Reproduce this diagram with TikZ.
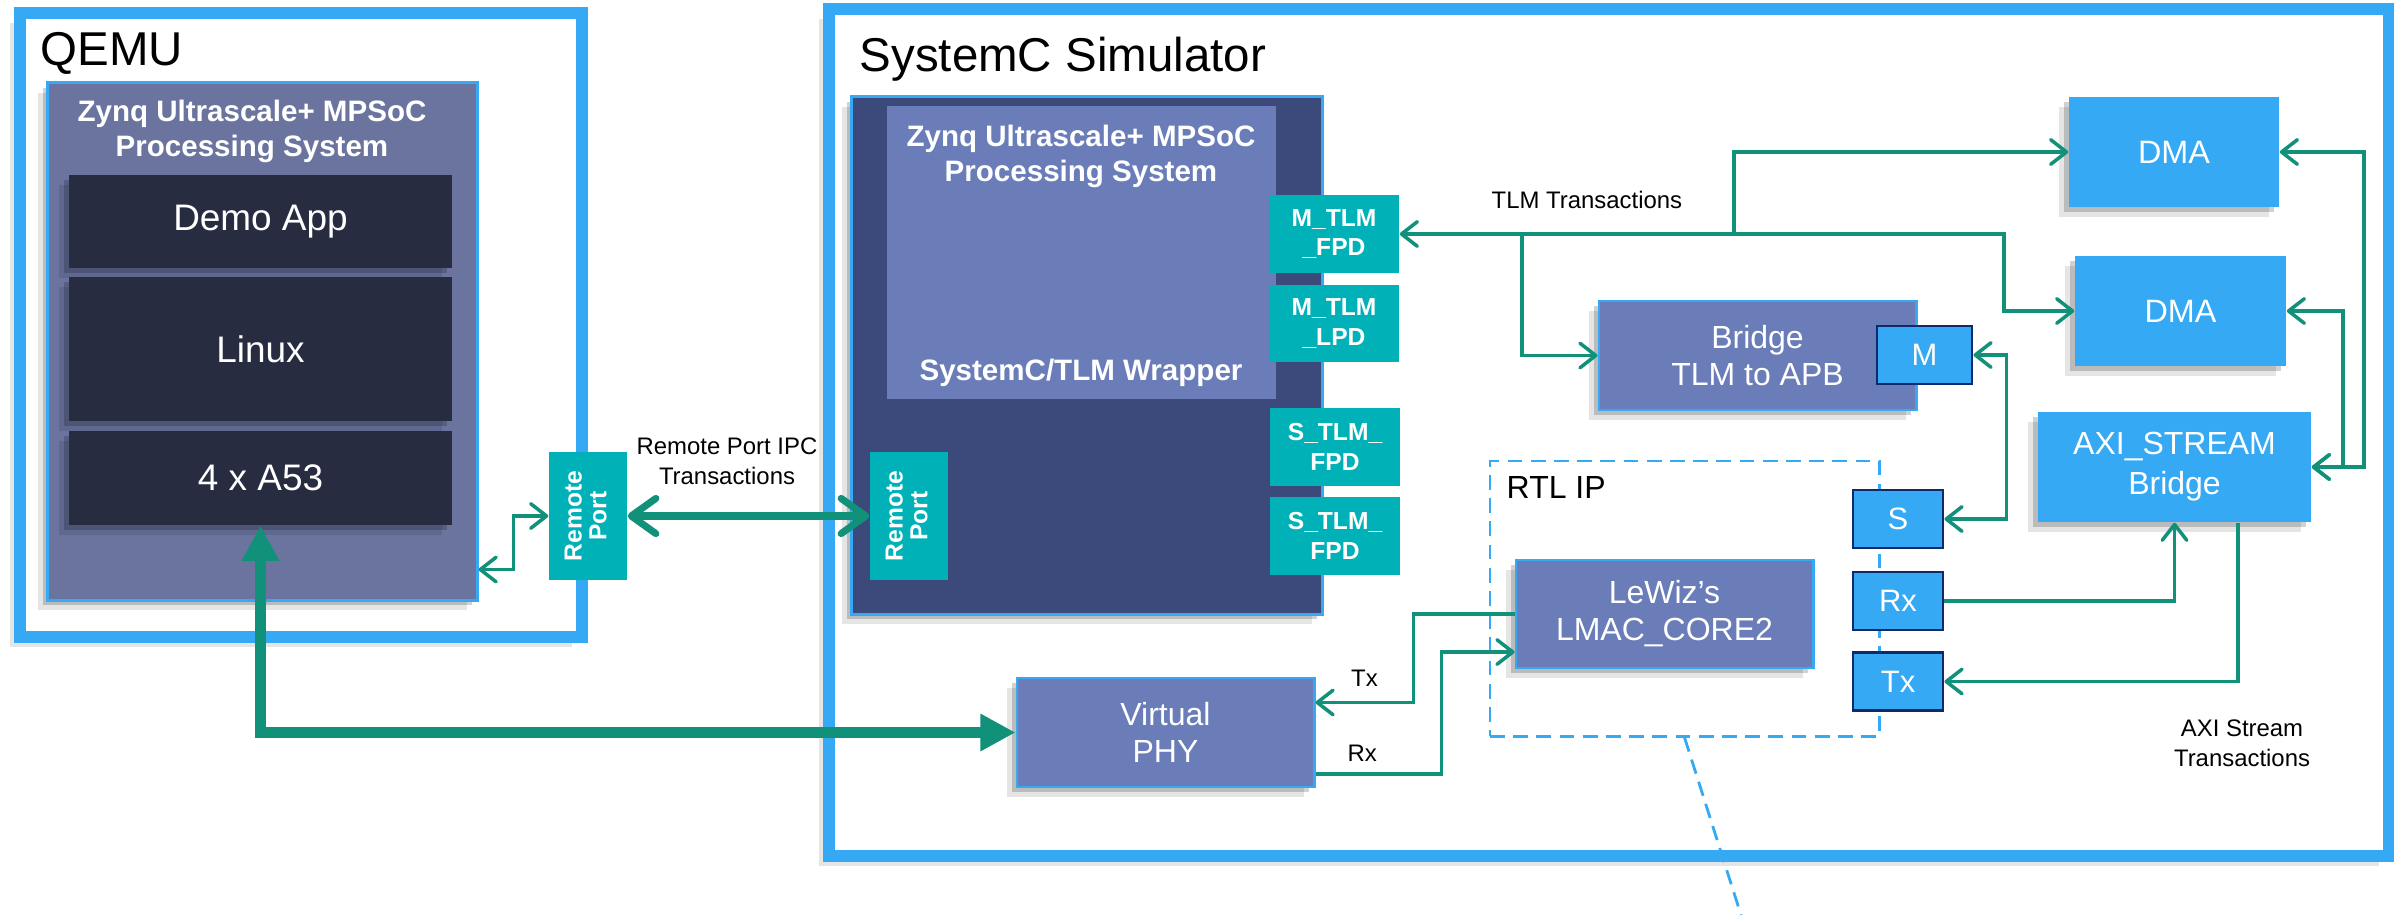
\documentclass[tikz,border=0pt]{standalone}
\usepackage{fontspec}
\setmainfont{Liberation Sans}
\usepackage{graphicx}
\usetikzlibrary{arrows.meta,shadows}

\definecolor{frameblue}{HTML}{36A9F5}
\definecolor{psgrey}{HTML}{6A749F}
\definecolor{appdark}{HTML}{282C41}
\definecolor{wrapnavy}{HTML}{3B4A7B}
\definecolor{psblue}{HTML}{6A7DB8}
\definecolor{portteal}{HTML}{00B1B8}
\definecolor{linkgreen}{HTML}{11907A}
\definecolor{edgenavy}{HTML}{10296B}

\tikzset{
  boxshadow/.style={general shadow={fill=black, opacity=.1, shadow xshift=-2.8pt, shadow yshift=-2.8pt},
                    general shadow={fill=black, opacity=.18, shadow xshift=-1.4pt, shadow yshift=-1.4pt}},
  simframe/.style={draw=frameblue, line width=3.4pt, fill=white, inner sep=0pt, boxshadow},
  bigtitle/.style={font=\fontsize{13.5}{16}\selectfont, inner sep=0pt},
  psbox/.style={draw=frameblue, line width=.8pt, fill=psgrey, inner sep=0pt, boxshadow},
  pstitle/.style={font=\bfseries\fontsize{8.4}{10}\selectfont, text=white, align=center, inner sep=0pt},
  appbox/.style={fill=appdark, text=white, font=\fontsize{10.5}{12.6}\selectfont, minimum width=3.83cm, inner sep=0pt, boxshadow},
  ipbox/.style={draw=frameblue, line width=.8pt, fill=psblue, text=white, align=center, font=\fontsize{9.1}{10.5}\selectfont, inner sep=0pt, boxshadow},
  dmabox/.style={fill=frameblue, text=white, align=center, font=\fontsize{9.2}{11.4}\selectfont, inner sep=0pt, boxshadow},
  portbox/.style={fill=portteal, text=white, align=center, font=\bfseries\fontsize{7}{8.5}\selectfont, inner sep=0pt},
  pinbox/.style={fill=frameblue, draw=edgenavy, line width=.8pt, text=white, font=\fontsize{8.8}{10}\selectfont, inner sep=0pt, minimum height=.58cm},
  rtlbox/.style={draw=frameblue, line width=.8pt, dash pattern=on 4.2pt off 2.4pt, inner sep=0pt},
  note/.style={font=\fontsize{6.8}{8.6}\selectfont, align=center, inner sep=1pt},
  link/.style={draw=linkgreen, line width=1pt},
  ipc/.style={draw=linkgreen, line width=2pt, >={Straight Barb[length=7pt,width=10pt,round]}},
  phylink/.style={draw=linkgreen, line width=3.4pt, >={Triangle[length=10pt,width=10pt]}},
}

\begin{document}
\begin{tikzpicture}[x=0.01cm, y=-0.01cm, >={Straight Barb[length=4.5pt,width=7pt,round]}]
\useasboundingbox (0,0) rectangle (2404,915);

% qemu
\node[simframe, minimum width=5.62cm, minimum height=6.24cm] (qemu) at (301,325) {};
\node[bigtitle, anchor=base west] (qemutitle) at (40,65) {QEMU};
\node[psbox, minimum width=4.29cm, minimum height=5.17cm] (qemups) at (262.5,341.5) {};
\node[pstitle, anchor=north] (qemupstitle) at (252,99) {Zynq Ultrascale+ MPSoC\\Processing System};
\node[appbox, minimum height=.93cm] (demo) at (260.5,221.5) {Demo App};
\node[appbox, minimum height=1.44cm] (linux) at (260.5,349) {Linux};
\node[appbox, minimum height=.94cm] (a53) at (260.5,478) {4 x A53};
\node[portbox, minimum width=.78cm, minimum height=1.28cm] (rpq) at (588,516)
  {\rotatebox{90}{\begin{tabular}{@{}c@{}}Remote\\[-1.5pt]Port\end{tabular}}};
\node[note] (ipcnote) at (727,461) {Remote Port IPC\\Transactions};

% systemc simulator
\node[simframe, minimum width=15.59cm, minimum height=8.465cm] (sysc) at (1608.5,432.75) {};
\node[bigtitle, anchor=base west] (sysctitle) at (859,71) {SystemC Simulator};
\node[psbox, fill=wrapnavy, minimum width=4.70cm, minimum height=5.17cm] (wrapper) at (1087,355.5) {};
\node[fill=psblue, inner sep=0pt, minimum width=3.89cm, minimum height=2.93cm] (scps) at (1081.5,252.5) {};
\node[pstitle, anchor=north] (scpstitle) at (1081,124) {Zynq Ultrascale+ MPSoC\\Processing System};
\node[pstitle, anchor=base] (wraptitle) at (1081,380) {SystemC/TLM Wrapper};
\node[portbox, minimum width=.78cm, minimum height=1.28cm] (rps) at (909,516)
  {\rotatebox{90}{\begin{tabular}{@{}c@{}}Remote\\[-1.5pt]Port\end{tabular}}};
\node[portbox, minimum width=1.30cm, minimum height=.78cm] (mfpd) at (1334,234) {M\_TLM\\\_FPD};
\node[portbox, minimum width=1.30cm, minimum height=.77cm] (mlpd) at (1334,323.5) {M\_TLM\\\_LPD};
\node[portbox, minimum width=1.30cm, minimum height=.78cm] (sfpda) at (1335,447) {S\_TLM\_\\FPD};
\node[portbox, minimum width=1.30cm, minimum height=.78cm] (sfpdb) at (1335,536) {S\_TLM\_\\FPD};
\node[note, anchor=west, inner sep=0pt] (tlmnote) at (1491,200) {TLM Transactions};

% peripherals
\node[dmabox, minimum width=2.10cm, minimum height=1.10cm] (dma1) at (2174,152) {DMA};
\node[dmabox, minimum width=2.11cm, minimum height=1.10cm] (dma2) at (2180.5,311) {DMA};
\node[ipbox, minimum width=3.17cm, minimum height=1.09cm] (bridge) at (1757.5,355.5) {Bridge\\TLM to APB};
\node[pinbox, minimum width=.95cm] (mport) at (1924.5,355) {M};
\node[dmabox, font=\fontsize{9.1}{11.4}\selectfont, minimum width=2.73cm, minimum height=1.10cm] (axi) at (2174.5,467) {AXI\_STREAM\\Bridge};
\node[note] (axinote) at (2242,743) {AXI Stream\\Transactions};

% rtl ip
\node[rtlbox, minimum width=3.89cm, minimum height=2.75cm] (rtl) at (1684.5,598.5) {};
\node[bigtitle, font=\fontsize{9.1}{11}\selectfont, anchor=base west] (rtltitle) at (1506,498) {RTL IP};
\node[ipbox, minimum width=2.97cm, minimum height=1.08cm] (lmac) at (1664.5,614) {LeWiz’s\\LMAC\_CORE2};
\node[pinbox, minimum width=.90cm] (sport) at (1898,519) {S};
\node[pinbox, minimum width=.90cm] (rxport) at (1898,601) {Rx};
\node[pinbox, minimum width=.90cm] (txport) at (1898,681.5) {Tx};
\node[ipbox, minimum width=2.97cm, minimum height=1.09cm] (phy) at (1165.5,732.5) {Virtual\\PHY};

% connections
\draw[link,<->] ([yshift=.32cm]qemups.south east) -- ++(35,0) |- (rpq.west);
\draw[ipc,<->] (rpq.east) -- (rps.west);

\coordinate (tlmbr) at (1522,234);
\coordinate (tlmdma) at (1734,234);
\draw[link,<->] (mfpd.east) -| ([xshift=-.7cm]dma2.west) -- (dma2.west);
\draw[link,->] (tlmbr) |- (bridge.west);
\draw[link,->] (tlmdma) |- (dma1.west);
\draw[link,<->] (dma1.east) -- ++(84,0) |- (axi.east);
\draw[link,<->] (dma2.east) -- ++(56,0) |- (axi.east);
\draw[link,<->] (mport.east) -- ++(33,0) |- (sport.east);
\draw[link,->] (rxport.east) -| (axi.south);
\draw[link,->] ([xshift=.635cm]axi.south) |- (txport.east);

% mac to phy
\draw[link,->] (lmac.west) -- ++(-101,0) |- node[note, pos=.75, above=3pt] (txlabel) {Tx} ([yshift=.3cm]phy.east);
\draw[link,->] ([yshift=-.415cm]phy.east) -- node[note, pos=.37, above=2pt] (rxlabel) {Rx} ++(126,0) |- ([yshift=-.38cm]lmac.west);

\coordinate (rtlzoom) at (1741,915);
\draw[frameblue, line width=.8pt, dash pattern=on 4.2pt off 2.4pt] (rtl.south) -- (rtlzoom);

% qemu to phy
\draw[phylink,<->] (a53.south) |- (phy.west);
\end{tikzpicture}
\end{document}
